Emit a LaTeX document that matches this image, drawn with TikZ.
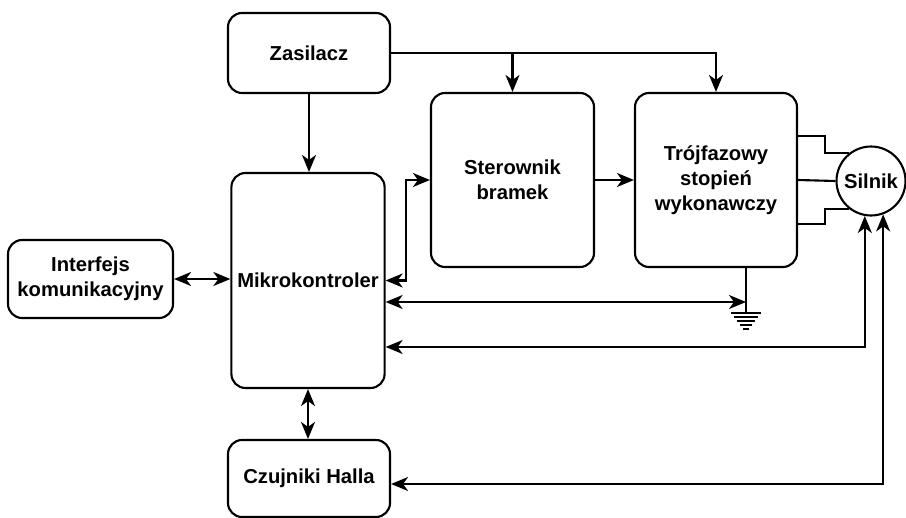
\documentclass[tikz,border=0pt]{standalone}
\usepackage{fontspec}
\setmainfont{Liberation Sans}
\usetikzlibrary{positioning,arrows.meta,calc}

\begin{document}
\begin{tikzpicture}[
  font=\fontsize{11.5}{14.2}\selectfont\bfseries,
  blk/.style={rounded corners=8pt, draw=black, line width=1.2pt, align=center},
  motor/.style={circle, draw=black, line width=1.2pt, minimum size=1.38cm, inner sep=0pt},
  wire/.style={line width=1.2pt},
  arr/.style={-{Stealth[length=3.4mm, width=2.8mm, inset=1mm]}, line width=1.2pt},
  biarr/.style={{Stealth[length=3.4mm, width=2.8mm, inset=1mm]}-{Stealth[length=3.4mm, width=2.8mm, inset=1mm]}, line width=1.2pt}
]
\useasboundingbox (0,0) rectangle (18.12,10.36);

%% ---------- Blocks ----------
\node[blk, minimum width=3.24cm, minimum height=1.6cm]  (zasilacz)  at (6.18,9.30)  {Zasilacz};
\node[blk, minimum width=3.0cm,  minimum height=4.3cm]  (mikro)     at (6.16,4.75)  {Mikrokontroler};
\node[blk, minimum width=3.3cm,  minimum height=1.56cm] (interfejs) at (1.81,4.78)  {Interfejs\\komunikacyjny};
\node[blk, minimum width=3.26cm, minimum height=3.48cm] (sterownik) at (10.25,6.76) {Sterownik\\bramek};
\node[blk, minimum width=3.24cm, minimum height=3.48cm] (trojfaz)   at (14.32,6.76) {Trójfazowy\\stopień\\wykonawczy};
\node[blk, minimum width=3.24cm, minimum height=1.54cm] (czujniki)  at (6.18,0.79)  {Czujniki Halla};
\node[motor] (silnik) at (17.42,6.74) {Silnik};

%% ---------- Power ----------
\draw[arr] (zasilacz.south) -- (zasilacz.south |- mikro.north);
\draw[arr] (zasilacz.east) -| (sterownik.north);
\draw[arr] (zasilacz.east) -| (trojfaz.north);

%% ---------- Control path ----------
\draw[arr] (sterownik.east) -- (trojfaz.west);
\draw[biarr] (mikro.east) -- ++(0.4,0) |- (sterownik.west);
\draw[biarr] (interfejs.east) -- (interfejs.east -| mikro.west);
\draw[biarr] (mikro.south) -- (mikro.south |- czujniki.north);

%% ---------- Phases to motor ----------
\draw[wire] ($(trojfaz.east)+(0,0.88)$) -- ++(0.54,0) |- (silnik.128);
\draw[wire] (trojfaz.east) -- (silnik.west);
\draw[wire] ($(trojfaz.east)+(0,-0.88)$) -- ++(0.54,0) |- (silnik.-128);

%% ---------- Ground ----------
\coordinate (gndtop) at ($(trojfaz.south)+(0.6,0)$);
\coordinate (gnd) at ($(gndtop)+(0,-0.9)$);
\draw[wire] (gndtop) -- (gnd);
\foreach \i/\w in {0/0.30,1/0.24,2/0.18,3/0.12,4/0.06}
  \draw[wire] ($(gnd)+(-\w,-0.08*\i)$) -- ++(2*\w,0);
\coordinate (mgnd) at ($(mikro.east)+(0,-0.43)$);
\draw[biarr] (mgnd) -- (mgnd -| gnd);

%% ---------- Feedback from motor ----------
\draw[biarr] ($(mikro.east)+(0,-1.33)$) -| (silnik.-100);
\draw[biarr] ($(czujniki.east)+(0,-0.11)$) -| (silnik.-70);

\end{tikzpicture}
\end{document}
